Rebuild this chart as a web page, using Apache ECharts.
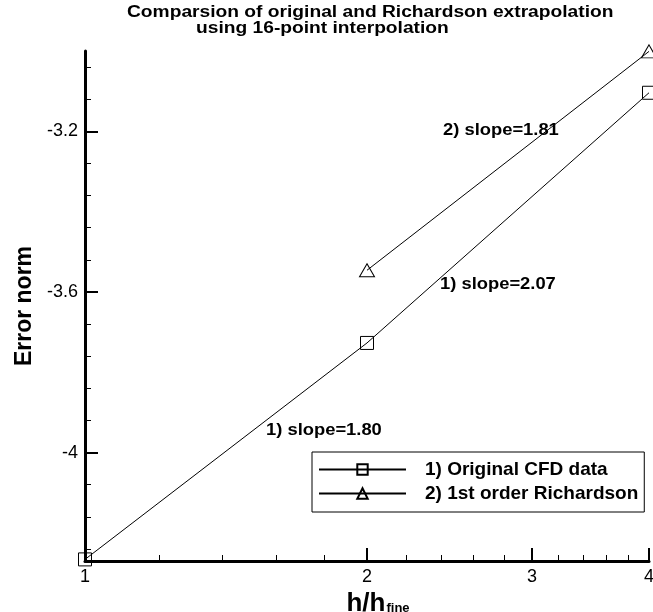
<!DOCTYPE html>
<html>
<head>
<meta charset="utf-8">
<script src="https://cdn.jsdelivr.net/npm/echarts@6/dist/echarts.min.js"></script>
<style>
  html, body { margin: 0; padding: 0; background: #fff; }
  #chart { width: 653px; height: 612px; }
</style>
</head>
<body>
<div id="chart"></div>
<script>
// Grid refinement ratio h/h_fine of each solution level
const hRatio = [1, 2, 4];
// log10 error norm of the original CFD solution at each level
const originalErr = [-4.266, -3.727, -3.104];
// 1st order Richardson extrapolation needs two levels, so it starts at h/h_fine = 2
const richardsonHRatio = [2, 4];
const richardsonErr = [-3.546, -3.001];

// Axis ticks
const xTickLabels = [1, 2, 3, 4];
const xMinorTicks = [1.2, 1.4, 1.6, 1.8, 2.2, 2.4, 2.6, 2.8, 3.2, 3.4, 3.6, 3.8];
const yTickLabels = [-4, -3.6, -3.2];
const yMinorTicks = [-4.24, -4.16, -4.08, -3.92, -3.84, -3.76, -3.68,
                     -3.52, -3.44, -3.36, -3.28, -3.12, -3.04];

// Title lines and slope annotations
const titleLines = ['Comparsion of original and Richardson extrapolation',
                    'using 16-point interpolation'];
const slopeNotes = ['2) slope=1.81', '1) slope=2.07', '1) slope=1.80'];

const seriesNames = ['1) Original CFD data', '2) 1st order Richardson'];

// The h axis is logarithmic (base 2): positions are log2(h)
const lg = Math.log2;
const xMin = lg(1), xMax = lg(4);
const yMin = -4.27, yMax = -3.0;

const FONT = '"Liberation Sans", Arial, Helvetica, sans-serif';

const chart = echarts.init(document.getElementById('chart'), null, { renderer: 'canvas' });

const hollow = { color: 'rgba(0,0,0,0)', borderColor: '#000', borderWidth: 1 };

// Wide bold lettering used for the title and the slope notes
function wideText(str, x, y, size, sx) {
  return {
    type: 'text', x: x, y: y, scaleX: sx, z: 10,
    style: { text: str, font: 'bold ' + size + 'px ' + FONT, fill: '#000', verticalAlign: 'middle', align: 'left' }
  };
}

chart.setOption({
  animation: false,
  backgroundColor: '#fff',
  grid: { left: 85, right: 4, top: 51, bottom: 51, containLabel: false, outerBoundsMode: 'none' },
  legend: {
    orient: 'vertical',
    left: 312, top: 452,
    padding: [8, 6, 9, 6],
    itemGap: 5,
    itemWidth: 87,
    itemHeight: 13,
    borderColor: '#000',
    borderWidth: 1,
    backgroundColor: '#fff',
    textStyle: { fontFamily: FONT, fontWeight: 'bold', fontSize: 19, color: '#000', padding: [0, 0, 0, 14] },
    data: seriesNames
  },
  xAxis: [
    {
      type: 'value', min: xMin, max: xMax,
      position: 'bottom',
      name: '{m|h/h}{s|fine}',
      nameLocation: 'middle',
      nameGap: 24,
      nameTextStyle: {
        rich: {
          m: { fontFamily: FONT, fontWeight: 'bold', fontSize: 26, color: '#000', padding: [0, 0, 0, 22] },
          s: { fontFamily: FONT, fontWeight: 'bold', fontSize: 13, color: '#000', padding: [9, 0, 0, 1] }
        }
      },
      axisLine: { show: true, onZero: false, lineStyle: { color: '#000', width: 3 } },
      axisTick: {
        show: true, inside: true, length: 13,
        customValues: xTickLabels.map(lg),
        lineStyle: { color: '#000', width: 2 }
      },
      axisLabel: {
        customValues: xTickLabels.map(lg),
        formatter: v => String(Math.round(Math.pow(2, v))),
        margin: 7,
        fontFamily: FONT, fontSize: 18, color: '#000'
      },
      splitLine: { show: false }
    },
    {
      type: 'value', min: xMin, max: xMax,
      position: 'bottom',
      axisLine: { show: false, onZero: false },
      axisTick: {
        show: true, inside: true, length: 6,
        customValues: xMinorTicks.map(lg),
        lineStyle: { color: '#000', width: 1 }
      },
      axisLabel: { show: false },
      splitLine: { show: false }
    }
  ],
  yAxis: [
    {
      type: 'value', min: yMin, max: yMax,
      position: 'left',
      name: 'Error norm',
      nameLocation: 'middle',
      nameGap: 49,
      nameRotate: 90,
      nameTextStyle: { fontFamily: FONT, fontWeight: 'bold', fontSize: 23, color: '#000' },
      axisLine: { show: true, onZero: false, lineStyle: { color: '#000', width: 3 } },
      axisTick: {
        show: true, inside: true, length: 13,
        customValues: yTickLabels,
        lineStyle: { color: '#000', width: 2 }
      },
      axisLabel: {
        customValues: yTickLabels,
        margin: 7,
        fontFamily: FONT, fontSize: 18, color: '#000'
      },
      splitLine: { show: false }
    },
    {
      type: 'value', min: yMin, max: yMax,
      position: 'left',
      axisLine: { show: false, onZero: false },
      axisTick: {
        show: true, inside: true, length: 6,
        customValues: yMinorTicks,
        lineStyle: { color: '#000', width: 1 }
      },
      axisLabel: { show: false },
      splitLine: { show: false }
    }
  ],
  series: [
    {
      name: seriesNames[0],
      type: 'line',
      xAxisIndex: 0, yAxisIndex: 0,
      data: hRatio.map((h, i) => [lg(h), originalErr[i]]),
      symbol: 'rect', symbolSize: 13, showSymbol: true,
      itemStyle: hollow,
      lineStyle: { color: '#000', width: 1 },
      clip: false, z: 3
    },
    {
      name: seriesNames[1],
      type: 'line',
      xAxisIndex: 0, yAxisIndex: 0,
      data: richardsonHRatio.map((h, i) => [lg(h), richardsonErr[i]]),
      symbol: 'triangle', symbolSize: [15, 13], showSymbol: true,
      itemStyle: hollow,
      lineStyle: { color: '#000', width: 1 },
      clip: false, z: 3
    }
  ],
  graphic: [
    wideText(titleLines[0], 127, 13, 16, 1.2),
    wideText(titleLines[1], 196, 29, 16, 1.2),
    wideText(slopeNotes[0], 443, 130, 17, 1.08),
    wideText(slopeNotes[1], 440, 284, 17, 1.08),
    wideText(slopeNotes[2], 266, 430, 17, 1.08)
  ]
});
</script>
</body>
</html>
